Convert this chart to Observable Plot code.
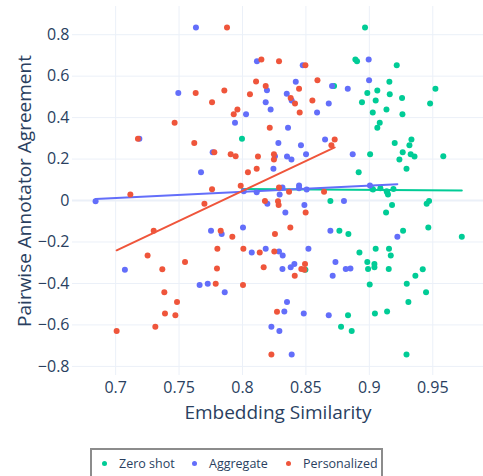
<!DOCTYPE html>
<html><head><meta charset="utf-8">
<script src="https://cdn.jsdelivr.net/npm/d3@7"></script>
<script src="https://cdn.jsdelivr.net/npm/@observablehq/plot@0.6"></script>
<style>
body{margin:0;background:#fff;font-family:"Open Sans",sans-serif;}
#wrap{position:relative;width:483px;height:476px;overflow:hidden;background:#fff;}
#chart svg{display:block;}
#legend{position:absolute;left:90px;top:448px;width:293px;height:31px;border:2px solid #8c8c8c;box-sizing:border-box;background:#fff;}
.item{position:absolute;top:0;height:28px;line-height:28px;font-size:12.5px;color:#2a3f5f;white-space:nowrap;}
.dot{position:absolute;width:5px;height:5px;border-radius:50%;top:11px;}
</style>
</head><body>
<div id="wrap"><div id="chart"></div><div id="legend"></div></div>
<script>
// Series names and colours
const seriesNames = ["Zero shot", "Aggregate", "Personalized"];
const seriesColors = ["#00cc96", "#636efa", "#EF553B"];

// Zero shot
const zsX = [0.7996,0.8966,0.8890,0.8903,0.9216,0.8722,0.9158,0.8984,0.9063,0.9161,0.9258,0.8942,0.9050,0.9027,0.9135,0.9261,0.9521,0.9479,0.9082,0.9063,0.9006,0.9200,0.9332,0.9316,0.9263,0.9326,0.9356,0.9237,0.9293,0.9583,0.8916,0.9024,0.9087,0.9141,0.9147,0.9190,0.8693,0.9179,0.9132,0.9452,0.9471,0.8764,0.8835,0.9266,0.9465,0.9729,0.8496,0.8922,0.9050,0.9155,0.9169,0.8984,0.9040,0.9040,0.8990,0.9153,0.9421,0.9363,0.9003,0.9295,0.9447,0.8832,0.9044,0.9140,0.9308,0.8777,0.8861,0.9293,0.9029,0.9137];
const zsY = [0.298,0.835,0.680,0.672,0.653,0.553,0.573,0.519,0.531,0.513,0.495,0.474,0.482,0.425,0.439,0.416,0.539,0.468,0.375,0.351,0.223,0.278,0.294,0.267,0.233,0.223,0.212,0.198,0.153,0.214,0.137,0.056,0.059,0.040,0.029,0.056,-0.002,-0.021,-0.058,-0.015,-0.002,-0.146,-0.161,-0.146,-0.130,-0.175,-0.334,-0.251,-0.233,-0.233,-0.265,-0.296,-0.306,-0.322,-0.330,-0.330,-0.331,-0.363,-0.405,-0.402,-0.442,-0.553,-0.545,-0.535,-0.489,-0.609,-0.629,-0.743,0.053,0.045];

// Aggregate
const aggX = [0.7633,0.8114,0.8193,0.7494,0.8183,0.8222,0.8028,0.7941,0.7187,0.8283,0.7765,0.8256,0.7673,0.8244,0.8475,0.8995,0.8420,0.8349,0.8388,0.8588,0.8680,0.8706,0.8830,0.8998,0.8359,0.8461,0.8651,0.8501,0.8351,0.8386,0.8869,0.8315,0.8446,0.8446,0.9005,0.6842,0.7752,0.7836,0.8004,0.8196,0.8293,0.8073,0.8183,0.8288,0.7073,0.7662,0.7726,0.7860,0.8228,0.8291,0.8506,0.8488,0.8338,0.8800,0.8693,0.9221,0.8317,0.8520,0.8315,0.8380,0.8409,0.8711,0.8733,0.8814,0.8851,0.8351,0.8330,0.8483,0.8680,0.8388,0.8010,0.8112];
const aggY = [0.835,0.672,0.532,0.519,0.474,0.439,0.416,0.375,0.298,0.278,0.233,0.214,0.137,0.153,0.653,0.680,0.573,0.515,0.482,0.425,0.468,0.553,0.539,0.580,0.351,0.267,0.294,0.223,0.212,0.198,0.223,0.063,0.072,0.059,0.072,-0.003,-0.146,-0.161,-0.130,-0.015,0.029,-0.251,-0.233,-0.246,-0.334,-0.407,-0.402,-0.442,-0.609,-0.629,0.053,-0.021,-0.058,-0.002,-0.146,-0.175,-0.265,-0.233,-0.330,-0.322,-0.306,-0.363,-0.296,-0.330,-0.328,-0.489,-0.535,-0.545,-0.553,-0.743,0.045,0.040];

// Personalized
const persX = [0.7878,0.8149,0.8288,0.8107,0.8183,0.7631,0.7857,0.8059,0.7760,0.7960,0.7931,0.7465,0.8215,0.7176,0.7620,0.7778,0.7907,0.7946,0.8122,0.8248,0.8248,0.8112,0.8043,0.7760,0.7986,0.8288,0.8496,0.8446,0.8380,0.8414,0.8451,0.8591,0.8551,0.8727,0.8701,0.7116,0.7700,0.7300,0.7828,0.7920,0.8256,0.8177,0.8280,0.8285,0.7802,0.8007,0.8136,0.8251,0.7252,0.7368,0.7547,0.7799,0.8167,0.7789,0.8004,0.7384,0.7484,0.7389,0.7471,0.7313,0.7008,0.8272,0.8228,0.8367,0.8643,0.8498,0.8377,0.8493,0.8464,0.8488,0.8412];
const persY = [0.835,0.680,0.672,0.574,0.553,0.519,0.531,0.513,0.474,0.439,0.416,0.375,0.351,0.298,0.278,0.233,0.223,0.214,0.212,0.223,0.198,0.153,0.137,0.055,0.071,0.063,0.653,0.539,0.495,0.468,0.425,0.580,0.482,0.294,0.267,0.029,-0.016,-0.146,-0.146,-0.175,-0.161,-0.002,-0.003,-0.021,-0.233,-0.233,-0.251,-0.246,-0.265,-0.331,-0.296,-0.328,-0.322,-0.402,-0.407,-0.442,-0.489,-0.545,-0.553,-0.609,-0.629,-0.537,-0.743,0.042,0.042,-0.058,-0.130,-0.306,-0.330,-0.334,-0.363];

// OLS trendline endpoints
const zsTrendX = [0.7996, 0.9729];
const zsTrendY = [0.056, 0.048];
const aggTrendX = [0.6842, 0.9221];
const aggTrendY = [0.008, 0.079];
const persTrendX = [0.7008, 0.8727];
const persTrendY = [-0.240, 0.256];

// Ticks
const xTicks = [0.7, 0.75, 0.8, 0.85, 0.9, 0.95];
const yTicks = [-0.8, -0.6, -0.4, -0.2, 0, 0.2, 0.4, 0.6, 0.8];
const xTitle = "Embedding Similarity";
const yTitle = "Pairwise Annotator Agreement";

const toRows = (xs, ys) => xs.map((x, i) => ({x, y: ys[i]}));
const zs = toRows(zsX, zsY), agg = toRows(aggX, aggY), pers = toRows(persX, persY);
const zsT = toRows(zsTrendX, zsTrendY), aggT = toRows(aggTrendX, aggTrendY), persT = toRows(persTrendX, persTrendY);

const ink = "#2a3f5f", grid = "#EBF0F8";
const fmtY = d => d === 0 ? "0" : d3.format(".1f")(d);

const chart = Plot.plot({
  width: 483, height: 445,
  marginLeft: 72, marginRight: 0, marginTop: 6, marginBottom: 70,
  style: {fontFamily: "'Open Sans', sans-serif", color: ink, background: "#fff", overflow: "visible"},
  x: {domain: [0.666, 0.990]},
  y: {domain: [-0.844, 0.936]},
  marks: [
    Plot.gridX(xTicks, {stroke: grid, strokeOpacity: 1, strokeWidth: 1}),
    Plot.gridY(yTicks, {stroke: grid, strokeOpacity: 1, strokeWidth: 1}),
    Plot.ruleY([0], {stroke: grid, strokeWidth: 2}),
    Plot.axisX(xTicks, {tickSize: 0, tickPadding: 6, fontSize: 16, label: null, tickFormat: d => String(d), fill: ink}),
    Plot.axisY(yTicks, {tickSize: 0, tickPadding: 3, fontSize: 16, label: null, tickFormat: fmtY, fill: ink}),
    Plot.text([xTitle], {frameAnchor: "bottom", text: d => d, dy: 37, lineAnchor: "middle", fontSize: 19, fill: ink}),
    Plot.text([yTitle], {frameAnchor: "left", text: d => d, dx: -48, rotate: -90, textAnchor: "middle", lineAnchor: "middle", fontSize: 19, fill: ink}),
    Plot.dot(zs, {x: "x", y: "y", r: 3, fill: seriesColors[0], stroke: null}),
    Plot.line(zsT, {x: "x", y: "y", stroke: seriesColors[0], strokeWidth: 2}),
    Plot.dot(agg, {x: "x", y: "y", r: 3, fill: seriesColors[1], stroke: null}),
    Plot.line(aggT, {x: "x", y: "y", stroke: seriesColors[1], strokeWidth: 2}),
    Plot.dot(pers, {x: "x", y: "y", r: 3, fill: seriesColors[2], stroke: null}),
    Plot.line(persT, {x: "x", y: "y", stroke: seriesColors[2], strokeWidth: 2})
  ]
});
document.getElementById("chart").appendChild(chart);

// Legend
const legendPos = [[10, 27], [100, 117], [194, 211]];
const lg = document.getElementById("legend");
seriesNames.forEach((name, i) => {
  const dot = document.createElement("div");
  dot.className = "dot";
  dot.style.left = legendPos[i][0] + "px";
  dot.style.background = seriesColors[i];
  lg.appendChild(dot);
  const t = document.createElement("div");
  t.className = "item";
  t.style.left = legendPos[i][1] + "px";
  t.textContent = name;
  lg.appendChild(t);
});
</script>
</body></html>
